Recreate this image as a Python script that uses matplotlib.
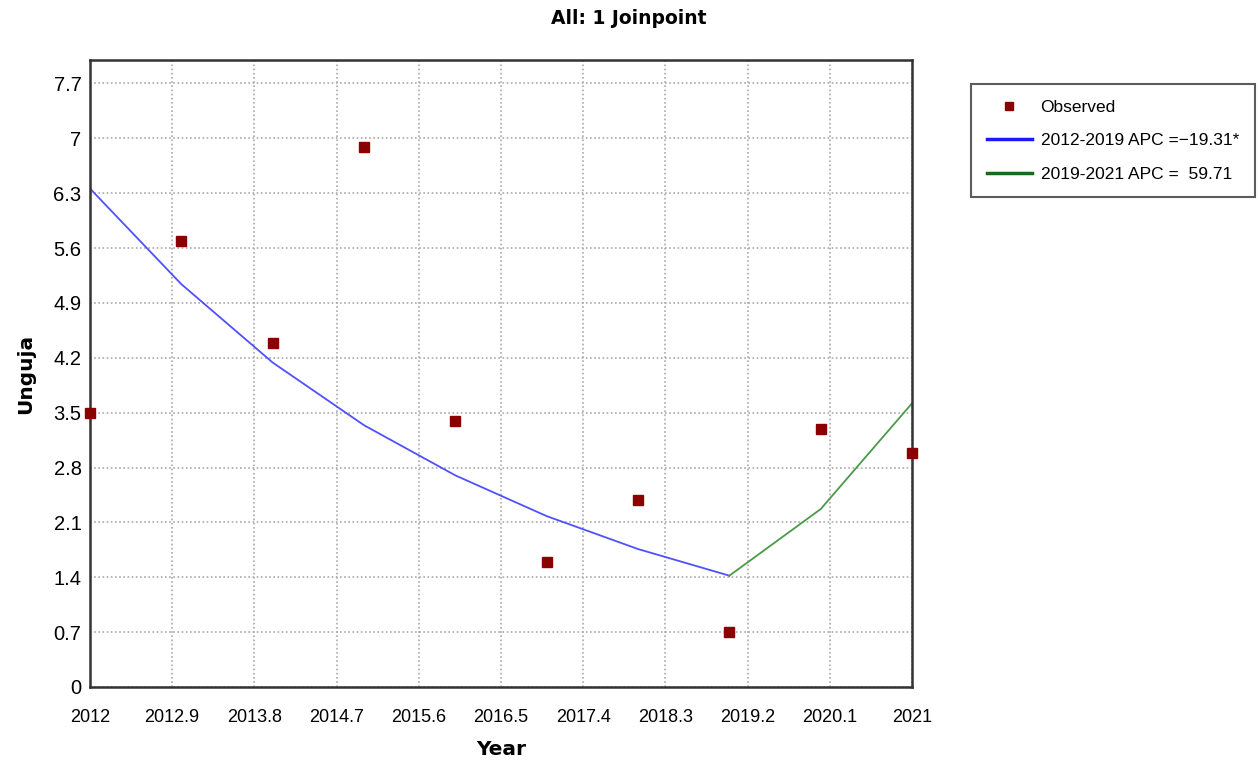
import numpy as np
import matplotlib.pyplot as plt

# observed values and joinpoint model fit
years = [2012, 2013, 2014, 2015, 2016, 2017, 2018, 2019, 2020, 2021]
observed = [3.49, 5.69, 4.39, 6.89, 3.39, 1.59, 2.39, 0.70, 3.29, 2.99]

seg1_years = [2012, 2013, 2014, 2015, 2016, 2017, 2018, 2019]
seg1_fit = [6.36, 5.14, 4.14, 3.34, 2.70, 2.18, 1.76, 1.42]
seg2_years = [2019, 2020, 2021]
seg2_fit = [1.42, 2.27, 3.62]

xticks = [2012, 2012.9, 2013.8, 2014.7, 2015.6, 2016.5, 2017.4, 2018.3, 2019.2, 2020.1, 2021]
xtick_labels = ["2012", "2012.9", "2013.8", "2014.7", "2015.6", "2016.5",
                "2017.4", "2018.3", "2019.2", "2020.1", "2021"]
yticks = [0, 0.7, 1.4, 2.1, 2.8, 3.5, 4.2, 4.9, 5.6, 6.3, 7, 7.7]
ytick_labels = ["0", "0.7", "1.4", "2.1", "2.8", "3.5", "4.2", "4.9", "5.6", "6.3", "7", "7.7"]

font = ["Liberation Sans", "DejaVu Sans"]

fig = plt.figure(figsize=(12.58, 7.65), dpi=100)
ax = fig.add_axes([0.0715, 0.102, 0.6535, 0.8196])

ax.plot(seg1_years, seg1_fit, color="#5050ff", lw=1.3, zorder=2)
ax.plot(seg2_years, seg2_fit, color="#4a9a4a", lw=1.3, zorder=2)
ax.plot(years, observed, ls="none", marker="s", ms=7, color="#8b0000", zorder=3, clip_on=False)

ax.set_xlim(2012, 2021)
ax.set_ylim(0, 8.0)
ax.set_xticks(xticks)
ax.set_xticklabels(xtick_labels, family=font, fontsize=13)
ax.set_yticks(yticks)
ax.set_yticklabels(ytick_labels, family=font, fontsize=14.5)
ax.tick_params(axis="x", length=0, pad=16)
ax.tick_params(axis="y", length=0, pad=6)
ax.grid(True, color="#aaaaaa", ls=(0, (1, 1.5)), lw=1.2)
for s in ax.spines.values():
    s.set_color("#333333")
    s.set_linewidth(1.8)

ax.set_xlabel("Year", fontsize=14.5, fontweight="bold", labelpad=10)
ax.set_ylabel("Unguja", fontsize=14.5, fontweight="bold", labelpad=13)
fig.text(0.5, 0.976, "All: 1 Joinpoint", ha="center", va="center", fontsize=13.5, fontweight="bold")

# legend
handles = [
    plt.Line2D([], [], ls="none", marker="s", ms=6, color="#8b0000"),
    plt.Line2D([], [], color="#1a1aff", lw=2.5),
    plt.Line2D([], [], color="#1a6a1a", lw=2.5),
]
labels = ["Observed", "2012-2019 APC =\u221219.31*", "2019-2021 APC =  59.71"]
leg = fig.legend(handles, labels, loc="upper left", bbox_to_anchor=(0.772, 0.890),
                 prop={"family": font, "size": 12.5}, frameon=True, fancybox=False,
                 handlelength=2.6, borderpad=0.9, labelspacing=1.05, handletextpad=0.5,
                 borderaxespad=0)
leg.get_frame().set_edgecolor("#333333")
leg.get_frame().set_linewidth(1.5)

fig.savefig("out.png", dpi=100)
